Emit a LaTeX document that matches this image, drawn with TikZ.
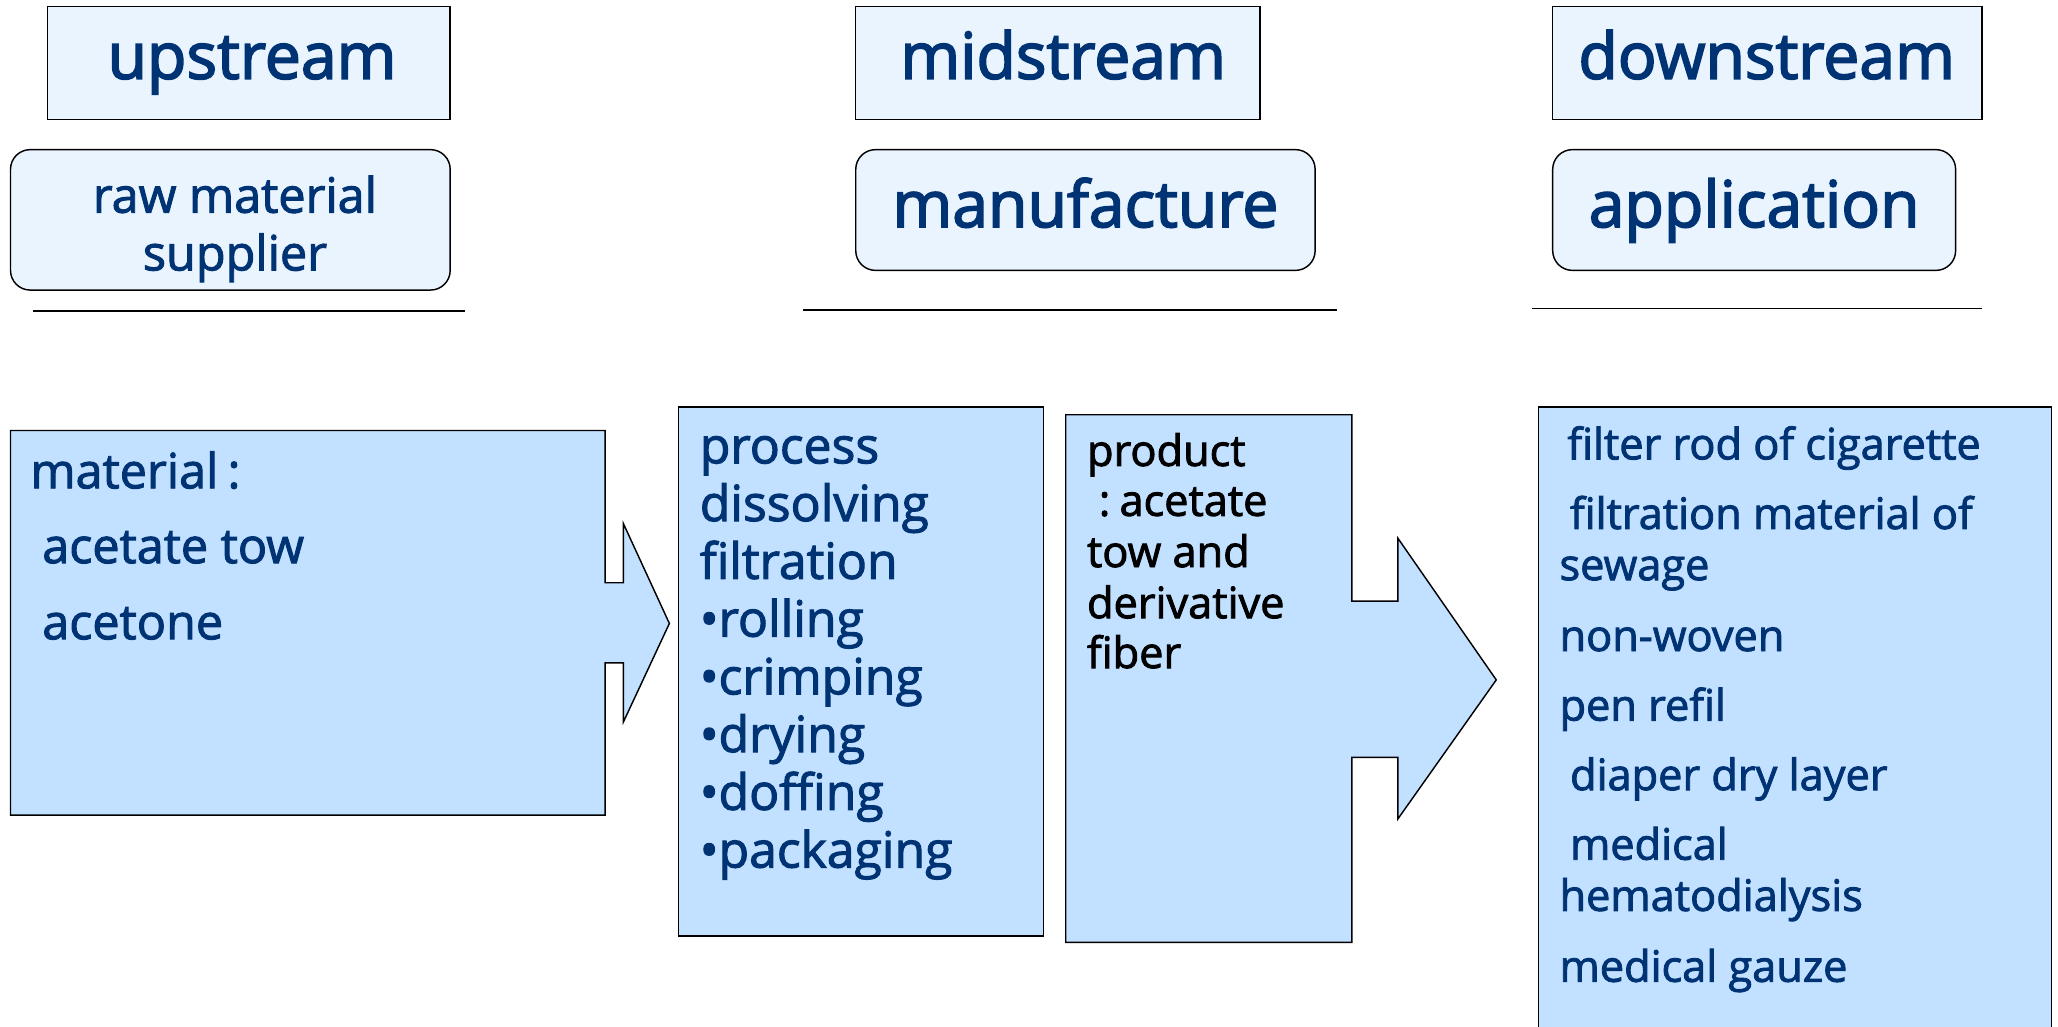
\documentclass[tikz,border=0pt]{standalone}
\usepackage{fontspec}
\setmainfont{Open Sans}
\newfontfamily\heavy{Open Sans}[FakeBold=2]
\newfontfamily\heavier{Open Sans}[FakeBold=2.6]
\definecolor{navy}{RGB}{0,51,115}
\definecolor{topfill}{RGB}{234,244,255}
\definecolor{lowfill}{RGB}{194,224,255}
\begin{document}
\begin{tikzpicture}[x=1pt,y=-1pt,
  topbox/.style={draw=black, fill=topfill, line width=1.1pt, inner sep=0pt},
  lowbox/.style={draw=black, fill=lowfill, line width=1.1pt, inner sep=0pt},
  arrowbox/.style={draw=black, fill=lowfill, line width=1.1pt, line join=miter},
  sepline/.style={draw=black, line width=1.4pt},
  headtxt/.style={text=navy, inner sep=0pt, font=\heavier\fontsize{49}{58}\selectfont},
  subtxt/.style={text=navy, inner sep=0pt, font=\heavy\fontsize{37}{44}\selectfont},
  mattxt/.style={text=navy, inner sep=0pt, anchor=base west, font=\heavy\fontsize{37}{44}\selectfont},
  proctxt/.style={text=navy, inner sep=0pt, anchor=base west, font=\heavy\fontsize{38}{44}\selectfont},
  prodtxt/.style={text=black, inner sep=0pt, anchor=base west, font=\heavy\fontsize{33}{39}\selectfont},
  apptxt/.style={text=navy, inner sep=0pt, anchor=base west, font=\heavy\fontsize{33}{39}\selectfont}]
\useasboundingbox (0,0) rectangle (1568,782);
\fill[white] (0,0) rectangle (1568,782);

% header boxes
\node[topbox, minimum width=307, minimum height=86] (upbox) at (189.5,48) {};
\node[topbox, minimum width=308, minimum height=86] (midbox) at (806,48) {};
\node[topbox, minimum width=327, minimum height=86] (downbox) at (1346.5,48) {};
\node[headtxt, anchor=base] (uptxt) at (192,60) {upstream};
\node[headtxt, anchor=base] (midtxt) at (810,60) {midstream};
\node[headtxt, anchor=base] (downtxt) at (1346,60) {downstream};

% rounded boxes
\node[topbox, rounded corners=15pt, minimum width=335, minimum height=107] (rawbox) at (175.5,167.5) {};
\node[subtxt, anchor=base] (rawtxt1) at (179,162) {raw material};
\node[subtxt, anchor=base] (rawtxt2) at (179,206) {supplier};
\node[topbox, rounded corners=15pt, minimum width=350, minimum height=92] (manbox) at (827,160) {};
\node[headtxt, anchor=base] (mantxt) at (827,173) {manufacture};
\node[topbox, rounded corners=15pt, minimum width=307, minimum height=92] (appbox) at (1336.5,160) {};
\node[headtxt, anchor=base] (apptxt) at (1336.5,173) {application};

% separator lines
\coordinate (l1a) at (25,237);  \coordinate (l1b) at (354,237);
\coordinate (l2a) at (612,236); \coordinate (l2b) at (1019,236);
\coordinate (l3a) at (1167,235); \coordinate (l3b) at (1510,235);
\draw[sepline] (l1a) -- (l1b);
\draw[sepline] (l2a) -- (l2b);
\draw[sepline] (l3a) -- (l3b);

% material block arrow
\draw[arrowbox] (8,328) -- (461,328) -- (461,444) -- (475,444) -- (475,399) -- (510,475)
  -- (475,550) -- (475,505) -- (461,505) -- (461,621) -- (8,621) -- cycle;
\node[mattxt] (m1) at (23,372) {material\hspace{7pt}:};
\node[mattxt] (m2) at (32,429) {acetate tow};
\node[mattxt] (m3) at (32,487) {acetone};

% process box
\node[lowbox, minimum width=278, minimum height=403] (procbox) at (656,511.5) {};
\foreach \t [count=\i from 0] in {process,dissolving,filtration,•rolling,•crimping,•drying,•doffing,•packaging}
  \node[proctxt] (p\i) at (533,{353+44*\i}) {\t};

% product block arrow
\draw[arrowbox] (812,316) -- (1030,316) -- (1030,458) -- (1065,458) -- (1065,410) -- (1140,518)
  -- (1065,624) -- (1065,577) -- (1030,577) -- (1030,718) -- (812,718) -- cycle;
\node[prodtxt] (q1) at (828,355) {product};
\node[prodtxt] (q2) at (828,393) {\hspace{9pt}:\hspace{7pt}acetate};
\node[prodtxt] (q3) at (828,432) {tow and};
\node[prodtxt] (q4) at (828,471) {derivative};
\node[prodtxt] (q5) at (828,509) {fiber};

% application box (bottom edge lies below the picture)
\fill[lowfill] (1172,310) rectangle (1563,800);
\draw[line width=1.1pt] (1172,800) -- (1172,310) -- (1563,310) -- (1563,800);
\node[apptxt] (a1) at (1194,350) {filter rod of cigarette};
\node[apptxt] (a2) at (1196,403) {filtration material of};
\node[apptxt] (a3) at (1188,442) {sewage};
\node[apptxt] (a4) at (1188,496) {non-woven};
\node[apptxt] (a5) at (1188,549) {pen refil};
\node[apptxt] (a6) at (1196,602) {diaper dry layer};
\node[apptxt] (a7) at (1196,655) {medical};
\node[apptxt] (a8) at (1188,694) {hematodialysis};
\node[apptxt] (a9) at (1188,748) {medical gauze};
\end{tikzpicture}
\end{document}
